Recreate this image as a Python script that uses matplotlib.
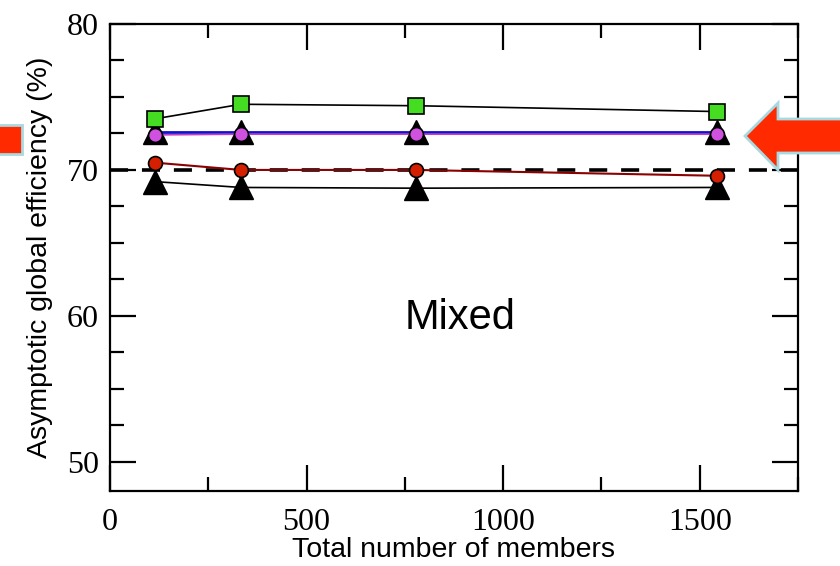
import matplotlib
matplotlib.use("Agg")
import matplotlib.pyplot as plt
from matplotlib.patches import Polygon
from matplotlib.ticker import MultipleLocator

plt.rcParams['lines.scale_dashes'] = False

# total number of members
members = [114, 333, 778, 1545]

# asymptotic global efficiency (%) for each ensemble
eff_square = [73.5, 74.5, 74.4, 74.0]
eff_tri_up = [72.6, 72.6, 72.6, 72.6]
eff_circle_mag = [72.4, 72.45, 72.45, 72.45]
eff_circle_red = [70.5, 70.0, 70.0, 69.6]
eff_tri_low = [69.2, 68.8, 68.75, 68.8]
reference_level = 70.0

xticks = [0, 500, 1000, 1500]
yticks = [50, 60, 70, 80]

fig = plt.figure(figsize=(8.4, 5.66), dpi=100)
ax = fig.add_axes([110/840, 1-491/566, 688/840, 467/566])

ax.axhline(reference_level, color='black', lw=2.6, dashes=(13, 10), zorder=2)

ax.plot(members, eff_tri_low, color='black', lw=1.2, marker='^', ms=17,
        mfc='black', mec='black', zorder=3)
ax.plot(members, eff_circle_red, color='#8b0000', lw=1.5, marker='o', ms=10,
        mfc='#d42000', mec='black', mew=1.2, zorder=4)
ax.plot(members, eff_tri_up, color='#1010d0', lw=2, marker='^', ms=17,
        mfc='black', mec='black', zorder=3)
ax.plot(members, eff_circle_mag, color='#c040c0', lw=1.2, marker='o', ms=10,
        mfc='#d050e0', mec='black', mew=1.2, zorder=4)
ax.plot(members, eff_square, color='black', lw=1.2, marker='s', ms=11,
        mfc='#44dd22', mec='black', mew=1.2, zorder=5)

ax.set_xlim(0, 1750)
ax.set_ylim(48, 80)
ax.set_xticks(xticks)
ax.set_yticks(yticks)
ax.xaxis.set_minor_locator(MultipleLocator(250))
ax.yaxis.set_minor_locator(MultipleLocator(2.5))
ax.tick_params(which='both', direction='in', top=True, right=True, width=1.6,
               labelsize=23)
ax.tick_params(axis='x', pad=12)
ax.tick_params(axis='y', pad=8)
ax.tick_params(which='major', length=19)
ax.tick_params(which='minor', length=10)
for lab in ax.get_xticklabels() + ax.get_yticklabels():
    lab.set_family('Liberation Serif')
for sp in ax.spines.values():
    sp.set_linewidth(1.6)

ax.set_xlabel('Total number of members', family='Liberation Sans', fontsize=20.5, labelpad=0)
ax.set_ylabel('Asymptotic global efficiency (%)', family='Liberation Sans', fontsize=20.5, labelpad=10)

ax.text(0.509, 0.37, 'Mixed', transform=ax.transAxes, ha='center', va='center',
        family='Liberation Sans', fontsize=30)

def px(points):
    return [(x/840, 1 - y/566) for x, y in points]

red = '#ff2a00'
edge = '#a8d8e0'
# arrow pointing at the right-hand end of the curves
right_arrow = px([(745, 136), (778, 103), (778, 119), (842, 119), (842, 153),
                  (778, 153), (778, 170)])
fig.patches.append(Polygon(right_arrow, closed=True, transform=fig.transFigure,
                           facecolor=red, edgecolor=edge, lw=2, zorder=10))
left_box = px([(-5, 125), (22, 125), (22, 154), (-5, 154)])
fig.patches.append(Polygon(left_box, closed=True, transform=fig.transFigure,
                           facecolor=red, edgecolor=edge, lw=2, zorder=10))

fig.savefig('out.png', dpi=100)
